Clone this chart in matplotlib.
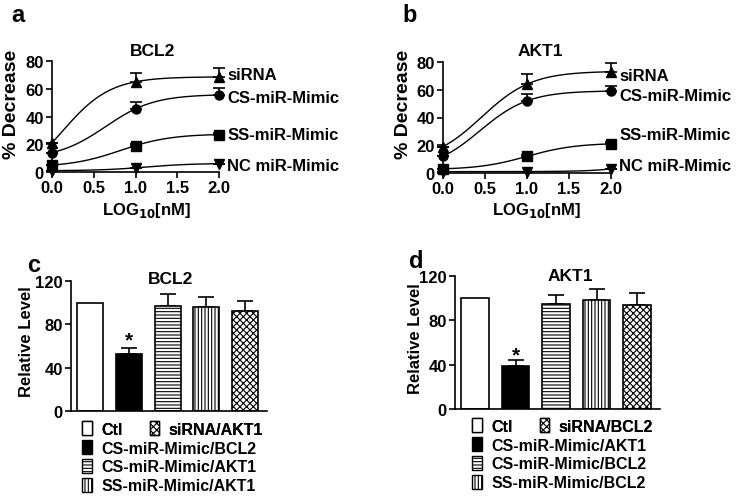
import numpy as np
import matplotlib
matplotlib.use("Agg")
import matplotlib.pyplot as plt
from matplotlib.patches import Patch

plt.rcParams["font.family"] = ["Liberation Sans", "DejaVu Sans"]
plt.rcParams["font.weight"] = "bold"
plt.rcParams["hatch.linewidth"] = 0.8

# ---- dose response data (a, b) ----
log_dose = [0.0, 1.0, 2.0]
series_names = ["siRNA", "CS-miR-Mimic", "SS-miR-Mimic", "NC miR-Mimic"]
series_markers = ["^", "o", "s", "v"]

bcl2_vals = {
    "siRNA": [21, 65, 68.5],
    "CS-miR-Mimic": [14, 45.5, 55.5],
    "SS-miR-Mimic": [5, 19, 27],
    "NC miR-Mimic": [1, 3, 6],
}
bcl2_err = {
    "siRNA": [0, 6, 6.5],
    "CS-miR-Mimic": [0, 5, 5],
    "SS-miR-Mimic": [0, 1, 1],
    "NC miR-Mimic": [0, 0, 0],
}
bcl2_label_y = [70.5, 54, 27, 5]

akt1_vals = {
    "siRNA": [19, 64, 73],
    "CS-miR-Mimic": [12, 52, 59],
    "SS-miR-Mimic": [3, 12, 21],
    "NC miR-Mimic": [1, 1, 3],
}
akt1_err = {
    "siRNA": [0, 7, 6],
    "CS-miR-Mimic": [0, 5, 4],
    "SS-miR-Mimic": [0, 1, 1],
    "NC miR-Mimic": [0, 0, 0],
}
akt1_label_y = [70, 55.5, 28, 5.5]

# ---- bar data (c, d) ----
bar_fc = ["white", "black", "white", "white", "white"]
bar_hatch = [None, None, "-----", "|||||", "xxxxx"]

c_labels = ["Ctl", "CS-miR-Mimic/BCL2", "CS-miR-Mimic/AKT1", "SS-miR-Mimic/AKT1", "siRNA/AKT1"]
c_vals = [100, 53, 97, 96, 92]
c_err = [0, 5, 11, 9, 10]

d_labels = ["Ctl", "CS-miR-Mimic/AKT1", "CS-miR-Mimic/BCL2", "SS-miR-Mimic/BCL2", "siRNA/BCL2"]
d_vals = [100, 39, 95, 98, 94]
d_err = [0, 5, 8, 10, 11]

W, H = 739, 502
fig = plt.figure(figsize=(W / 100, H / 100), dpi=100)


def box(l, t, r, b):
    return [l / W, 1 - b / H, (r - l) / W, (b - t) / H]


def fpos(x, y):
    return x / W, 1 - y / H


def fit_curve(x, y):
    # 4 parameter logistic, grid search on ec50/slope, linear solve for bottom/top
    x = np.asarray(x, float)
    y = np.asarray(y, float)
    best = None
    for c in np.linspace(-1, 4, 251):
        for h in np.linspace(0.8, 3, 45):
            s = 1 / (1 + 10 ** ((c - x) * h))
            A = np.vstack([1 - s, s]).T
            coef, *_ = np.linalg.lstsq(A, y, rcond=None)
            sse = np.sum((A @ coef - y) ** 2) + 0.05 * (h - 1.5) ** 2
            if best is None or sse < best[0]:
                best = (sse, c, h, coef)
    _, c, h, (bot, top) = best
    xs = np.linspace(x.min(), x.max(), 200)
    s = 1 / (1 + 10 ** ((c - xs) * h))
    return xs, bot + (top - bot) * s


def style_axes(ax):
    for sp in ["top", "right"]:
        ax.spines[sp].set_visible(False)
    for sp in ["left", "bottom"]:
        ax.spines[sp].set_linewidth(1.2)
    ax.tick_params(direction="out", length=4, width=1.2, labelsize=12, pad=2)


def dose_panel(rect, vals, errs, label_y):
    ax = fig.add_axes(rect)
    for name, mk, ly in zip(series_names, series_markers, label_y):
        xs, ys = fit_curve(log_dose, vals[name])
        ax.plot(xs, ys, color="black", lw=1.0, clip_on=False)
        ax.errorbar(log_dose, vals[name], yerr=[np.zeros(3), errs[name]], fmt="none",
                    ecolor="black", elinewidth=1.2, capsize=4, capthick=1.2, clip_on=False)
        ax.plot(log_dose, vals[name], mk, color="black", ms=6.5, clip_on=False, zorder=5)
        ax.text(2.1, ly, name, fontsize=12, va="center", ha="left")
    ax.set_xlim(0, 2)
    ax.set_ylim(0, 80)
    ax.set_xticks([0, 0.5, 1, 1.5, 2])
    ax.set_xticklabels(["0.0", "0.5", "1.0", "1.5", "2.0"])
    ax.set_yticks([0, 20, 40, 60, 80])
    style_axes(ax)
    return ax


def bar_panel(rect, labels, vals, errs, star_y):
    ax = fig.add_axes(rect)
    xpos = np.arange(len(vals))
    for i in range(len(vals)):
        ax.bar(xpos[i], vals[i], width=0.68, color=bar_fc[i], edgecolor="black",
               linewidth=1.2, hatch=bar_hatch[i], zorder=2)
    ax.errorbar(xpos[1:], vals[1:], yerr=[np.zeros(4), errs[1:]], fmt="none",
                ecolor="black", elinewidth=1.2, capsize=6, capthick=1.2, zorder=1)
    ax.text(1, star_y, "*", fontsize=15, ha="center", va="center")
    ax.set_xlim(-0.5, 4.57)
    ax.set_ylim(0, 120)
    ax.set_xticks([])
    ax.set_yticks([0, 40, 80, 120])
    style_axes(ax)
    handles = [Patch(facecolor=bar_fc[i], edgecolor="black", hatch=bar_hatch[i], lw=1.0)
               for i in range(5)]
    return ax, handles


# panel a
ax_a = dose_panel(box(52, 62, 219, 173), bcl2_vals, bcl2_err, bcl2_label_y)
# panel b
ax_b = dose_panel(box(443, 63, 611, 174), akt1_vals, akt1_err, akt1_label_y)

for x, y, t in [(153, 51, "BCL2"), (540, 51, "AKT1")]:
    fig.text(*fpos(x, y), t, fontsize=12.5, ha="center", va="center")
for x, y in [(12, 104), (404, 104)]:
    fig.text(*fpos(x, y), "% Decrease", fontsize=14, rotation=90, ha="center", va="center")
for x in [147, 537]:
    fig.text(*fpos(x, 211), r"LOG$_{\mathbf{10}}$[nM]", fontsize=12, ha="center", va="center")

# panel c
ax_c, h_c = bar_panel(box(71, 282, 267, 412), c_labels, c_vals, c_err, 66)
# panel d
ax_d, h_d = bar_panel(box(455, 277, 660, 410), d_labels, d_vals, d_err, 49)

fig.text(*fpos(171, 280), "BCL2", fontsize=12.5, ha="center", va="center")
fig.text(*fpos(570, 277), "AKT1", fontsize=12.5, ha="center", va="center")
fig.text(*fpos(27, 342), "Relative Level", fontsize=12, rotation=90, ha="center", va="center")
fig.text(*fpos(416, 339), "Relative Level", fontsize=12, rotation=90, ha="center", va="center")

for handles, labels, x0, y0 in [(h_c, c_labels, 82, 422), (h_d, d_labels, 472, 419)]:
    kw = dict(frameon=False, fontsize=11.5, handlelength=0.6, handleheight=1.0,
              handletextpad=0.6, borderpad=0, borderaxespad=0, labelspacing=0.2,
              loc="upper left", bbox_transform=fig.transFigure)
    leg1 = fig.legend([handles[0], handles[4]], [labels[0], labels[4]], ncol=2,
                      columnspacing=1.7, bbox_to_anchor=fpos(x0, y0), **kw)
    fig.add_artist(leg1)
    fig.legend(handles[1:4], labels[1:4], ncol=1, bbox_to_anchor=fpos(x0, y0 + 19), **kw)

for x, y, t in [(18, 16, "a"), (410, 15, "b"), (34, 266, "c"), (416, 262, "d")]:
    fig.text(*fpos(x, y), t, fontsize=17, ha="center", va="center")

fig.savefig("out.png", dpi=100)
